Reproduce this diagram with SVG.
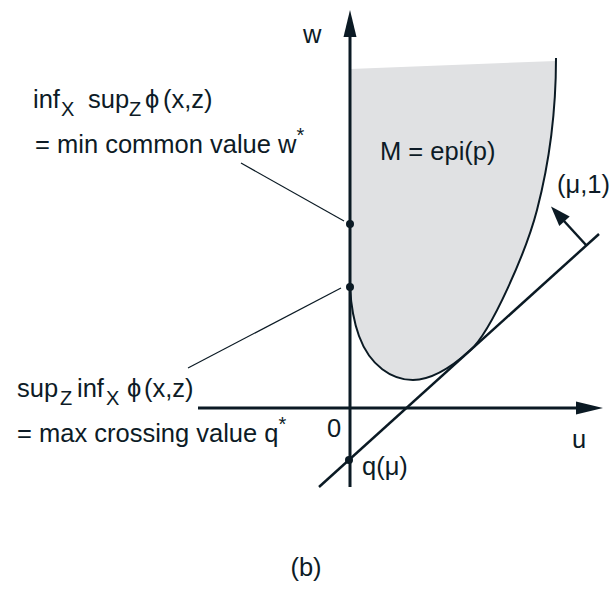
<svg xmlns="http://www.w3.org/2000/svg" width="613" height="595" viewBox="0 0 613 595">
<style>
text{font-family:"Liberation Sans",Arial,sans-serif;font-size:25.5px;fill:#0d1b26}
.sub{font-size:20px}
.ln{stroke:#0b1a24;fill:none}
.ax{stroke-width:3}
.lead{stroke-width:1.2}
.dot{fill:#0b1a24}
.head{fill:#0b1a24}
</style>
<rect width="613" height="595" fill="#fff"/>
<g id="region">
<path d="M350,69 L556,61 C556,110 550,160 537,210 C526.6,250 492,330.7 470,350.6 C445,373.2 428,380 413,380 C392,380 370,366 359,336 C355,325 351,305 350,287 Z" fill="#e0e1e3"/>
<path class="ln" stroke-width="2" d="M556,58 C556,110 550,160 537,210 C526.6,250 492,330.7 470,350.6 C445,373.2 428,380 413,380 C392,380 370,366 359,336 C355,325 351,305 350,287"/>
<text x="380" y="160">M = epi(p)</text>
</g>
<g id="axes">
<line class="ln ax" x1="350" y1="487" x2="350" y2="34"/>
<polygon class="head" points="350,10 343.5,37 356.5,37"/>
<line class="ln ax" x1="198" y1="408" x2="580" y2="408"/>
<polygon class="head" points="603,408 576,401.5 576,414.5"/>
<text x="303" y="43">w</text>
<text x="572" y="448">u</text>
<text x="327" y="437">0</text>
</g>
<g id="connectors">
<line class="ln" stroke-width="2.5" x1="319" y1="487" x2="599" y2="234"/>
<line class="ln" stroke-width="2.5" x1="586" y1="245" x2="564" y2="221"/>
<polygon class="head" points="551,206.4 569.7,216.5 559.3,225.9"/>
<line class="ln lead" x1="241" y1="163" x2="344" y2="221"/>
<line class="ln lead" x1="188" y1="368" x2="341" y2="288"/>
</g>
<g id="w-star">
<circle class="dot" cx="350" cy="224" r="4"/>
<text y="108"><tspan x="33">inf</tspan><tspan class="sub" x="61" dy="8">X</tspan><tspan x="88" dy="-8">sup</tspan><tspan class="sub" x="129" dy="8">Z</tspan><tspan x="145" dy="-8">ϕ</tspan><tspan x="163">(x,z)</tspan></text>
<text x="35" y="153">= min common value w<tspan class="sub" dy="-11">*</tspan></text>
</g>
<g id="q-star">
<circle class="dot" cx="350" cy="287" r="4"/>
<text y="397"><tspan x="17">sup</tspan><tspan class="sub" x="60" dy="8">Z</tspan><tspan x="77" dy="-8">inf</tspan><tspan class="sub" x="106" dy="8">X</tspan><tspan x="127" dy="-8">ϕ</tspan><tspan x="144">(x,z)</tspan></text>
<text x="17" y="442">= max crossing value q<tspan class="sub" dy="-11">*</tspan></text>
</g>
<g id="q-mu">
<circle class="dot" cx="349" cy="460" r="4"/>
<text x="362" y="475">q(μ)</text>
</g>
<g id="normal">
<text x="557" y="193">(μ,1)</text>
</g>
<text x="306" y="576" text-anchor="middle">(b)</text>
</svg>
